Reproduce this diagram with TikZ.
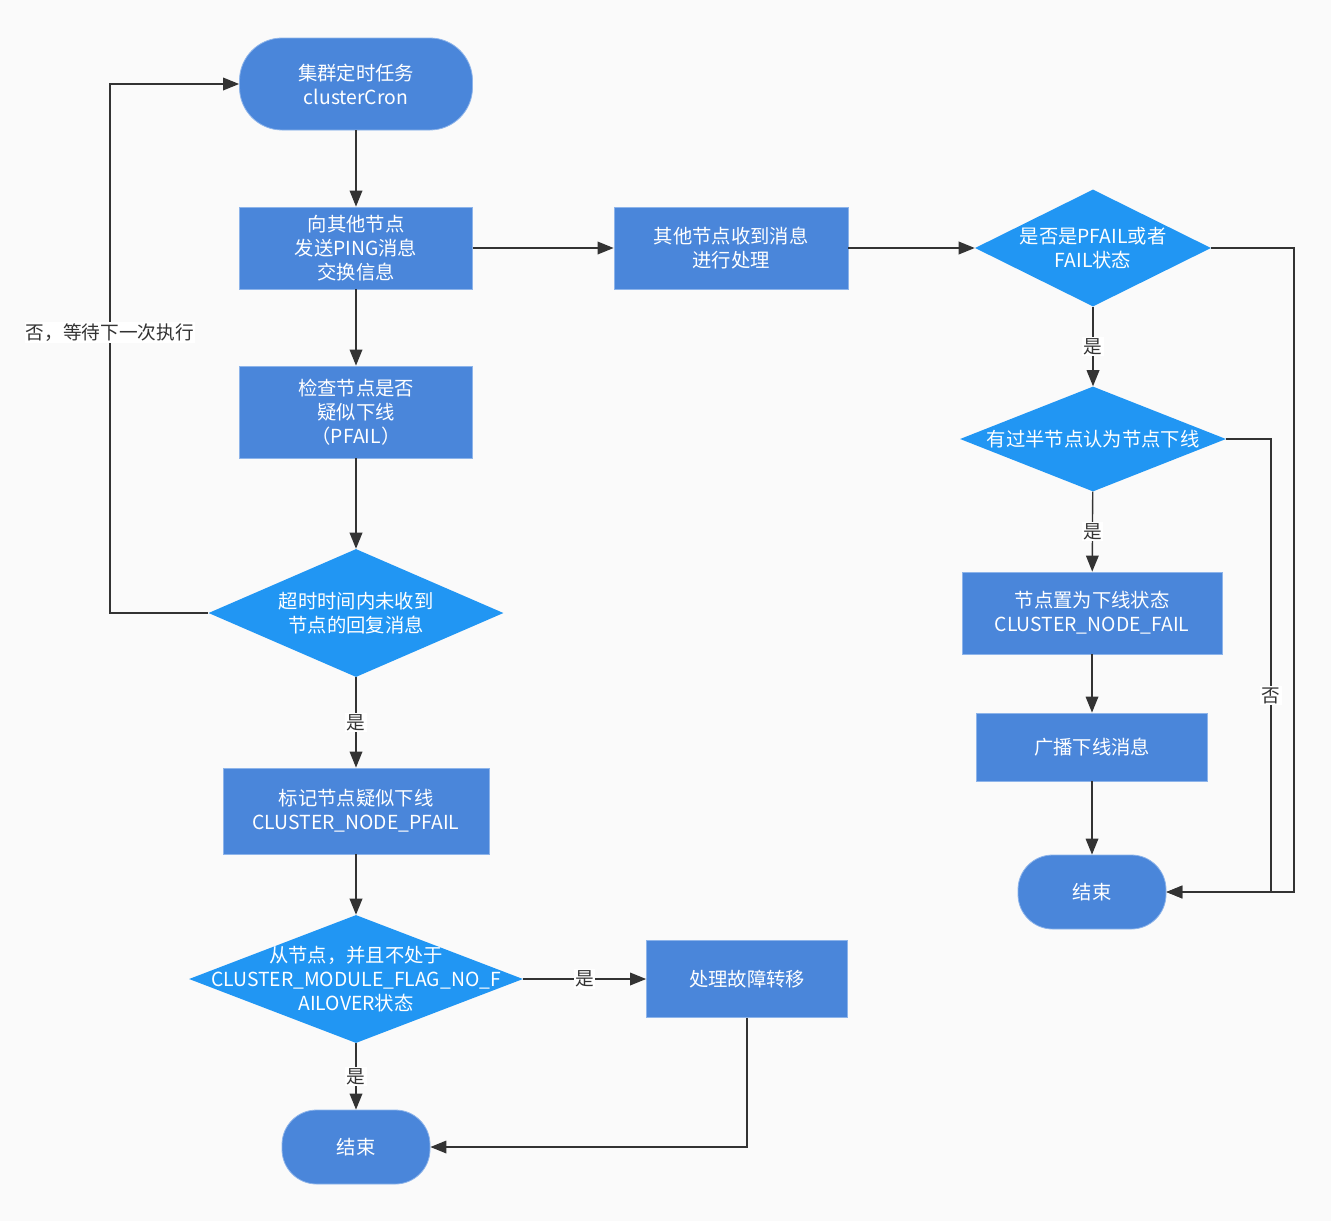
\documentclass[tikz,border=0pt]{standalone}
\usepackage{fontspec}
\setmainfont{Noto Sans CJK SC}
\usetikzlibrary{arrows.meta,shapes.geometric}
\definecolor{bgc}{HTML}{FAFAFA}
\definecolor{boxc}{HTML}{4A86DA}
\definecolor{boxb}{HTML}{8DB4EA}
\definecolor{diac}{HTML}{2196F3}
\definecolor{linec}{HTML}{333333}
\tikzset{
  boxn/.style={rectangle, fill=boxc, draw=boxb, line width=0.6pt, text=white, align=center, inner sep=0pt, font=\fontsize{14.5pt}{18pt}\selectfont},
  term/.style={rectangle, rounded corners=30pt, fill=boxc, draw=boxb, line width=0.6pt, text=white, align=center, inner sep=0pt, font=\fontsize{14.5pt}{18pt}\selectfont},
  dia/.style={diamond, fill=diac, inner sep=0pt},
  dtxt/.style={text=white, align=center, inner sep=0pt, font=\fontsize{14.5pt}{18pt}\selectfont},
  arr/.style={draw=linec, line width=1pt, -{Triangle[length=12pt,width=9.5pt]}},
  ln/.style={draw=linec, line width=1pt},
  lbl/.style={fill=white, text=linec, inner sep=1pt, font=\fontsize{14pt}{16pt}\selectfont}
}
\begin{document}
\begin{tikzpicture}[x=0.75pt,y=-0.75pt]
\useasboundingbox[fill=bgc] (0,0) rectangle (1331,1221);
% left column
\node[term, minimum width=174.75pt, minimum height=69pt, rounded corners=32pt] (start) at (356,84) {集群定时任务\\clusterCron};
\node[boxn, minimum width=174.75pt, minimum height=61.5pt] (b1) at (356,248) {向其他节点\\发送PING消息\\交换信息};
\node[boxn, minimum width=174.75pt, minimum height=69pt] (b3) at (356,412) {检查节点是否\\疑似下线\\（PFAIL）};
\node[dia, minimum width=221.25pt, minimum height=96pt] (dA) at (356,613) {};
\node[dtxt] at (dA) {超时时间内未收到\\节点的回复消息};
\node[boxn, minimum width=199.5pt, minimum height=64.5pt] (b4) at (356,811) {标记节点疑似下线\\CLUSTER\_NODE\_PFAIL};
\node[dia, minimum width=250.5pt, minimum height=96pt] (dB) at (356,979) {};
\node[dtxt] at (dB) {从节点，并且不处于\\CLUSTER\_MODULE\_FLAG\_NO\_F\\AILOVER状态};
\node[boxn, minimum width=150.75pt, minimum height=57.75pt] (b5) at (747,979) {处理故障转移};
\node[term, minimum width=111pt, minimum height=55.5pt, rounded corners=26pt] (endL) at (356,1147) {结束};
% right column
\node[boxn, minimum width=175.5pt, minimum height=61.5pt] (b2) at (731,248) {其他节点收到消息\\进行处理};
\node[dia, minimum width=177pt, minimum height=87.75pt] (d1) at (1093,248) {};
\node[dtxt] at (d1) {是否是PFAIL或者\\FAIL状态};
\node[dia, minimum width=199.5pt, minimum height=78.75pt] (d2) at (1093,439) {};
\node[dtxt] at (d2) {有过半节点认为节点下线};
\node[boxn, minimum width=195pt, minimum height=61.5pt] (b6) at (1092,613) {节点置为下线状态\\CLUSTER\_NODE\_FAIL};
\node[boxn, minimum width=173.25pt, minimum height=51pt] (b7) at (1092,747) {广播下线消息};
\node[term, minimum width=111pt, minimum height=55.5pt, rounded corners=26pt] (endR) at (1092,892) {结束};
% connectors
\draw[arr] (start) -- (b1);
\draw[arr] (b1) -- (b2);
\draw[arr] (b2) -- (d1);
\draw[arr] (b1) -- (b3);
\draw[arr] (b3) -- (dA);
\draw[arr] (dA.west) -- (110,613) -- node[lbl, pos=0.53] {否，等待下一次执行} (110,84) -- (start.west);
\draw[arr] (dA) -- node[lbl] {是} (b4);
\draw[arr] (b4) -- (dB);
\draw[arr] (dB) -- node[lbl] {是} (b5);
\draw[arr] (dB) -- node[lbl] {是} (endL);
\draw[arr] (b5.south) -- (747,1147) -- (endL.east);
\draw[arr] (d1) -- node[lbl] {是} (d2);
\draw[arr] (d2) -- node[lbl] {是} (b6);
\draw[arr] (b6) -- (b7);
\draw[arr] (b7) -- (endR);
\draw[arr] (d1.east) -- (1294,248) -- (1294,892) -- (endR.east);
\draw[arr] (d2.east) -- (1271,439) -- node[lbl, pos=0.567] {否} (1271,892) -- (endR.east);
\end{tikzpicture}
\end{document}
